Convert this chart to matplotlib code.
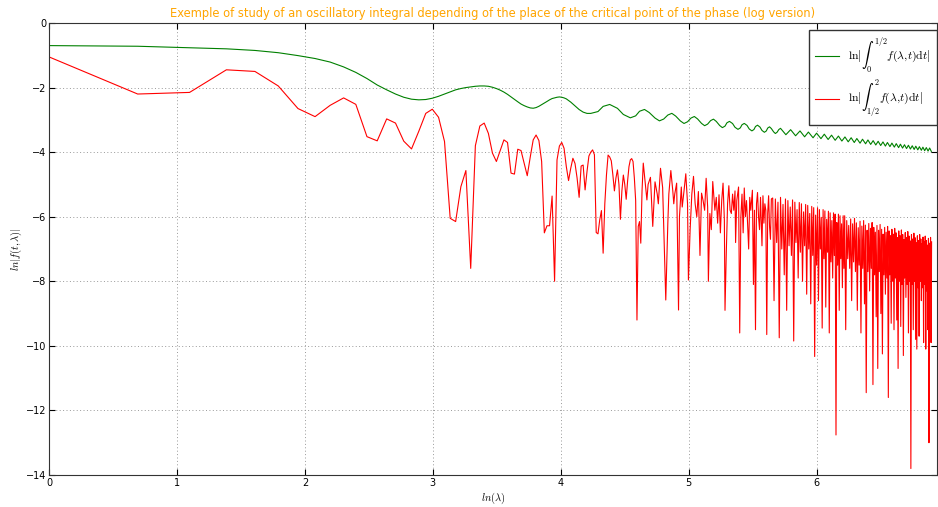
import numpy as np
import matplotlib
matplotlib.use("Agg")
import matplotlib.pyplot as plt

TITLE = ("Exemple of study of an oscillatory integral depending of the place "
         "of the critical point of the phase (log version)")

# --- green curve: ln|int_0^{1/2} f dt|, sampled at lambda values ---
green_lam_a = list(range(1, 70))
green_val_a = [-0.70, -0.72, -0.765, -0.80, -0.85, -0.92, -1.01, -1.10, -1.21, -1.36,
               -1.53, -1.72, -1.92, -2.07, -2.20, -2.30, -2.36, -2.38, -2.37, -2.33,
               -2.27, -2.20, -2.13, -2.07, -2.03, -2.00, -1.98, -1.96, -1.95, -1.95,
               -1.96, -1.99, -2.03, -2.08, -2.14, -2.21, -2.29, -2.37, -2.44, -2.51,
               -2.56, -2.60, -2.63, -2.64, -2.62, -2.58, -2.53, -2.48, -2.43, -2.38,
               -2.34, -2.32, -2.30, -2.29, -2.30, -2.32, -2.35, -2.40, -2.45, -2.51,
               -2.57, -2.63, -2.68, -2.72, -2.76, -2.78, -2.80, -2.80, -2.80]
green_lam_b = [73, 76, 80, 85, 89, 94, 98, 101, 105, 109, 114, 118, 122, 126, 130, 134,
               139, 143, 147, 151, 155, 159, 164, 168, 172, 176, 180, 184, 189, 193,
               197, 200, 204, 209, 213, 218, 222, 225, 229, 234, 238, 243, 247, 250,
               254, 259, 263, 268, 272, 275, 279, 283, 288, 292, 296, 300, 304,
               317, 329, 342, 354, 367, 378, 392, 403, 417, 428, 441, 453, 466, 478,
               491, 503, 516, 528, 541, 552, 566, 577, 591, 602, 615, 627, 640, 652,
               665, 677, 690, 701, 715, 726, 740, 751, 765, 776, 789, 801, 814, 826,
               839, 851, 864, 875, 889, 900, 914, 925, 938, 950, 963, 975, 988]
green_val_b = [-2.743, -2.583, -2.523, -2.643, -2.833, -2.937, -2.876, -2.734, -2.678,
               -2.774, -2.944, -3.031, -2.975, -2.851, -2.798, -2.883, -3.034, -3.112,
               -3.059, -2.945, -2.896, -2.972, -3.110, -3.181, -3.131, -3.024, -2.978,
               -3.048, -3.176, -3.241, -3.194, -3.091, -3.047, -3.114, -3.230, -3.294,
               -3.249, -3.152, -3.110, -3.172, -3.281, -3.342, -3.299, -3.206, -3.165,
               -3.225, -3.328, -3.385, -3.344, -3.255, -3.216, -3.270, -3.371, -3.423,
               -3.383, -3.300, -3.262,
               -3.460, -3.304, -3.493, -3.343, -3.525, -3.378, -3.555, -3.412, -3.582,
               -3.444, -3.608, -3.474, -3.633, -3.502, -3.656, -3.529, -3.680, -3.554,
               -3.701, -3.578, -3.722, -3.600, -3.741, -3.623, -3.760, -3.644, -3.778,
               -3.664, -3.795, -3.684, -3.812, -3.702, -3.828, -3.720, -3.844, -3.737,
               -3.860, -3.754, -3.874, -3.771, -3.889, -3.787, -3.903, -3.803, -3.916,
               -3.816, -3.929, -3.831, -3.942, -3.846, -3.955, -3.859, -3.966, -3.872,
               -3.978]

# --- red curve: ln|int_{1/2}^2 f dt| ---
red_lam_a = list(range(1, 105))
red_val_a = [-1.05, -2.20, -2.15, -1.45, -1.50, -1.95, -2.65, -2.90, -2.55, -2.32,
             -2.52, -3.52, -3.65, -2.97, -3.10, -3.66, -3.90, -3.35, -2.80, -2.67,
             -2.92, -3.67, -6.05, -6.15, -5.07, -4.57, -7.60, -3.80, -3.19, -3.10,
             -3.42, -4.03, -4.29, -3.95, -3.62, -3.70, -4.65, -4.68, -3.91, -3.95,
             -4.35, -4.73, -4.15, -3.62, -3.47, -3.64, -4.29, -6.50, -6.28, -6.28,
             -5.36, -8.00, -4.24, -3.81, -3.70, -3.88, -4.45, -4.88, -4.50, -4.19,
             -4.35, -4.80, -5.40, -4.43, -4.40, -5.17, -4.60, -4.12, -4.00, -3.93,
             -4.08, -6.49, -6.53, -6.10, -5.81, -7.13, -5.60, -4.71, -4.09, -4.15,
             -4.27, -4.70, -5.20, -4.80, -4.55, -5.00, -6.08, -5.20, -4.71, -5.00,
             -5.46, -4.90, -4.45, -4.24, -4.20, -4.29, -4.80, -5.50, -9.20, -6.30,
             -6.15, -6.82, -5.20, -4.34]
red_lam_b = [106, 107, 108, 110, 112, 114, 116, 117, 119, 121, 124, 126, 127, 129, 131,
             132, 133, 135, 137, 138, 140, 141, 143, 145, 147, 148, 150, 152, 154, 156,
             158, 160, 162, 164, 166, 168, 170, 172, 173, 175, 177, 179, 181, 182, 184,
             186, 188, 190, 192, 194, 196, 197, 199, 201, 203, 205, 207, 209, 211, 213,
             214, 216, 219, 221, 223, 225, 227, 229, 231, 233, 235, 237, 239, 241, 244,
             246, 248, 250, 252, 254, 256, 258, 260, 263, 265, 267, 269, 271, 273, 275,
             277, 279, 281, 283]
red_val_b = [-5.10, -5.48, -5.00, -4.78, -6.30, -4.92, -5.30, -5.60, -4.50, -5.10,
             -8.58, -6.20, -5.30, -4.57, -5.20, -5.60, -5.30, -4.96, -8.89, -6.00,
             -5.08, -5.70, -5.20, -4.67, -5.60, -7.96, -6.40, -5.30, -4.75, -5.60,
             -6.00, -5.22, -7.20, -5.27, -5.50, -5.80, -4.81, -5.70, -8.00, -5.90,
             -6.40, -4.91, -5.50, -5.80, -5.40, -6.20, -5.32, -6.50, -5.50, -4.96,
             -6.10, -8.90, -7.10, -5.60, -5.04, -5.80, -5.90, -5.30, -5.80, -5.20,
             -6.80, -5.50, -5.08, -9.60, -6.00, -5.30, -6.50, -5.11, -6.00, -5.50,
             -6.20, -7.00, -5.40, -5.80, -5.18, -8.10, -5.80, -9.50, -5.60, -5.25,
             -6.00, -6.40, -5.40, -6.90, -5.35, -6.20, -5.60, -5.80, -9.65, -5.90,
             -5.35, -6.30, -6.70, -5.45]
red_lam_c = list(range(286, 500, 3))
red_val_c = [-5.42, -8.60, -5.45, -6.80, -5.55, -9.75, -5.40, -7.00, -5.62, -7.80,
             -5.45, -8.90, -5.50, -6.90, -5.70, -7.20, -5.48, -9.85, -5.55, -6.80,
             -5.78, -7.90, -5.56, -7.10, -5.60, -8.00, -5.85, -6.90, -5.62, -8.40,
             -5.65, -7.00, -5.90, -8.70, -5.68, -7.20, -5.72, -10.33, -5.95, -7.50,
             -5.72, -8.60, -5.78, -7.00, -6.02, -9.45, -5.78, -7.30, -5.82, -8.80,
             -6.08, -7.10, -5.83, -9.60, -5.88, -7.40, -6.12, -7.90, -5.88, -7.20,
             -5.92, -12.76, -6.18, -7.50, -5.92, -8.90, -5.97, -7.30, -6.22, -8.20,
             -5.97, -7.60]
red_lam_d = list(range(502, 991, 4))
red_val_d = [-5.97, -9.50, -6.12, -7.30, -6.27, -7.60, -6.07, -8.60, -6.22, -7.40,
             -6.05, -7.70, -6.19, -8.90, -6.34, -7.50, -6.14, -9.60, -6.29, -7.60,
             -6.12, -8.70, -6.26, -11.45, -6.42, -7.70, -6.21, -8.30, -6.36, -7.60,
             -6.18, -11.20, -6.33, -7.80, -6.48, -9.10, -6.27, -10.70, -6.42, -7.70,
             -6.24, -9.00, -6.39, -10.25, -6.54, -7.80, -6.33, -8.40, -6.48, -7.90,
             -6.30, -11.60, -6.44, -7.80, -6.59, -9.30, -6.39, -8.00, -6.54, -9.50,
             -6.36, -7.90, -6.50, -9.20, -6.65, -10.70, -6.44, -8.00, -6.59, -9.40,
             -6.41, -8.10, -6.55, -10.30, -6.71, -7.90, -6.49, -8.50, -6.64, -8.10,
             -6.46, -9.60, -6.60, -8.00, -6.75, -13.80, -6.55, -8.10, -6.69, -9.50,
             -6.51, -8.00, -6.65, -9.80, -6.80, -10.10, -6.59, -8.20, -6.74, -9.70,
             -6.55, -8.00, -6.69, -8.60, -6.84, -8.20, -6.63, -9.90, -6.78, -8.10,
             -6.60, -10.10, -6.74, -8.30, -6.88, -9.50, -6.67, -13.00, -6.82, -8.20,
             -6.64, -9.90, -6.78]

LEG_GREEN = r"$\ln|\int_0^{1/2}f(\lambda{,}t)\mathrm{d}t|$"
LEG_RED = r"$\ln|\int_{1/2}^2f(\lambda{,}t)\mathrm{d}t|$"


def main():
    plt.rcParams["mathtext.fontset"] = "cm"
    plt.rcParams["font.family"] = ["DejaVu Sans"]

    green_lam = np.array(green_lam_a + green_lam_b, dtype=float)
    green_val = np.array(green_val_a + green_val_b)
    red_lam = np.array(red_lam_a + red_lam_b + red_lam_c + red_lam_d, dtype=float)
    red_val = np.array(red_val_a + red_val_b + red_val_c + red_val_d)

    fig = plt.figure(figsize=(9.38, 5.07), dpi=100)
    ax = fig.add_axes([49 / 938, 32 / 507, 888 / 938, 452 / 507])

    ax.plot(np.log(green_lam), green_val, color="green", lw=0.8, label=LEG_GREEN)
    ax.plot(np.log(red_lam), red_val, color="red", lw=0.8, label=LEG_RED)

    ax.set_xlim(0, 6.94)
    ax.set_ylim(-14, 0)
    ax.set_xticks(range(0, 7))
    ax.set_yticks(range(-14, 1, 2))
    ax.grid(True, linestyle=(0, (1, 2.5)), color="0.6", lw=0.7)
    ax.tick_params(direction="in", top=True, right=True, labelsize=7, length=4,
                   pad=2)
    for sp in ax.spines.values():
        sp.set_color("0.2")

    ax.set_title(TITLE, color="orange", fontsize=8.3, pad=4)
    ax.set_xlabel(r"$ln(\lambda)$", fontsize=7.5, labelpad=2)
    ax.set_ylabel(r"$ln|f(t,\lambda)|$", fontsize=7.5, labelpad=1)

    leg = ax.legend(loc="upper right", bbox_to_anchor=(1.0, 0.985),
                    borderaxespad=0, fancybox=False, fontsize=8.5,
                    handlelength=2.0, labelspacing=0.3, borderpad=0.5,
                    framealpha=1)
    leg.get_frame().set_edgecolor("0.2")

    fig.savefig("out.png", dpi=100)
    plt.close(fig)


if __name__ == "__main__":
    main()
